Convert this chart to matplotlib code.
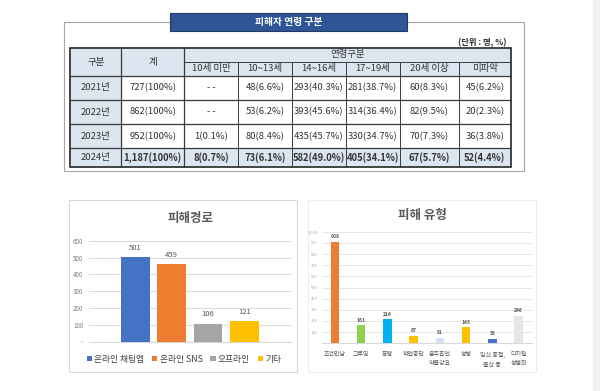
import matplotlib
matplotlib.use("Agg")
import matplotlib.pyplot as plt
from matplotlib.patches import Rectangle

plt.rcParams['font.family'] = ['Noto Sans CJK KR', 'DejaVu Sans']

# ---------------- data ----------------
years = ['2021년', '2022년', '2023년', '2024년']
totals = [727, 862, 952, 1187]
age_groups = ['10세 미만', '10~13세', '14~16세', '17~19세', '20세 이상', '미파악']
age_counts = [
    [None, 48, 293, 281, 60, 45],
    [None, 53, 393, 314, 82, 20],
    [1, 80, 435, 330, 70, 36],
    [8, 73, 582, 405, 67, 52],
]
age_pcts = [
    [None, 6.6, 40.3, 38.7, 8.3, 6.2],
    [None, 6.2, 45.6, 36.4, 9.5, 2.3],
    [0.1, 8.4, 45.7, 34.7, 7.3, 3.8],
    [0.7, 6.1, 49.0, 34.1, 5.7, 4.4],
]

routes = ['온라인 채팅앱', '온라인 SNS', '오프라인', '기타']
route_vals = [501, 459, 106, 121]
route_colors = ['#4472C4', '#ED7D31', '#A5A5A5', '#FFC000']

types = ['조건만남', '그루밍', '폭행', '학업중단', '음주흡연\n약물강요', '성병',
         '임신 중절,\n출산 등', '디지털\n성범죄']
type_vals = [908, 161, 214, 67, 51, 143, 38, 246]
type_colors = ['#ED7D31', '#92D050', '#00B0F0', '#FFC000', '#DAE3F3', '#FFC000',
               '#4472C4', '#E7E6E6']

W, H = 600, 391
fig = plt.figure(figsize=(W / 100, H / 100), dpi=100)
fig.patch.set_facecolor('white')

bg = fig.add_axes([0, 0, 1, 1])
bg.set_xlim(0, W)
bg.set_ylim(H, 0)
bg.axis('off')

# right grey strip
bg.add_patch(Rectangle((593, 0), 7, H, facecolor='#F2F2F2', edgecolor='none'))

# ---------------- table section ----------------
bg.add_patch(Rectangle((64, 22.3), 460, 148.4, facecolor='white',
                       edgecolor='#A6A6A6', lw=0.8))
bg.add_patch(Rectangle((170, 13.3), 237, 17.7, facecolor='#2F5597',
                       edgecolor='#1F3864', lw=0.8, zorder=3))
bg.text(288.5, 22.3, '피해자 연령 구분', color='white', fontsize=7, weight='bold',
        ha='center', va='center', zorder=4)
bg.text(506, 42.3, '(단위 : 명, %)', fontsize=6, weight='bold', color='#262626',
        ha='right', va='center')

cx = [70.4, 121.3, 184.1, 238, 291.6, 345.6, 399.5, 459.2, 510.5]
ry = [48.3, 61.7, 75.7, 99.7, 124.3, 148.3, 167.3]
hdr = '#DCE6F1'
tcol = '#333333'
fs = 6.8

# fills
bg.add_patch(Rectangle((cx[0], ry[0]), cx[-1] - cx[0], ry[2] - ry[0],
                       facecolor=hdr, edgecolor='none'))
bg.add_patch(Rectangle((cx[0], ry[2]), cx[1] - cx[0], ry[-1] - ry[2],
                       facecolor=hdr, edgecolor='none'))
bg.add_patch(Rectangle((cx[0], ry[5]), cx[-1] - cx[0], ry[6] - ry[5],
                       facecolor=hdr, edgecolor='none'))

lc = '#3A3A3A'
# horizontal lines
bg.plot([cx[2], cx[-1]], [ry[1], ry[1]], color=lc, lw=0.7)
for y in ry[2:6]:
    bg.plot([cx[0], cx[-1]], [y, y], color=lc, lw=0.9)
# vertical lines
for x in cx[1:3]:
    bg.plot([x, x], [ry[0], ry[-1]], color=lc, lw=0.9)
for x in cx[3:8]:
    bg.plot([x, x], [ry[1], ry[-1]], color=lc, lw=0.7)
bg.add_patch(Rectangle((cx[0], ry[0]), cx[-1] - cx[0], ry[-1] - ry[0],
                       facecolor='none', edgecolor='#262626', lw=1.2))

# header texts
bg.text((cx[0] + cx[1]) / 2, (ry[0] + ry[2]) / 2, '구분', fontsize=fs, color=tcol,
        ha='center', va='center')
bg.text((cx[1] + cx[2]) / 2, (ry[0] + ry[2]) / 2, '계', fontsize=fs, color=tcol,
        ha='center', va='center')
bg.text((cx[2] + cx[-1]) / 2, (ry[0] + ry[1]) / 2, '연령구분', fontsize=fs,
        color=tcol, ha='center', va='center')
for j, g in enumerate(age_groups):
    bg.text((cx[j + 2] + cx[j + 3]) / 2, (ry[1] + ry[2]) / 2, g, fontsize=fs,
            color=tcol, ha='center', va='center')

# body texts
for i, yr in enumerate(years):
    yc = (ry[i + 2] + ry[i + 3]) / 2
    wt = 'bold' if i == len(years) - 1 else 'normal'
    bg.text((cx[0] + cx[1]) / 2, yc, yr, fontsize=fs, color=tcol,
            ha='center', va='center')
    bg.text((cx[1] + cx[2]) / 2, yc, f'{totals[i]:,}(100%)', fontsize=fs,
            color=tcol, ha='center', va='center', weight=wt)
    for j in range(len(age_groups)):
        c, p = age_counts[i][j], age_pcts[i][j]
        s = '- -' if c is None else f'{c}({p:.1f}%)'
        bg.text((cx[j + 2] + cx[j + 3]) / 2, yc, s, fontsize=fs, color=tcol,
                ha='center', va='center', weight=wt)

# ---------------- chart frames ----------------
bg.add_patch(Rectangle((69.3, 200.3), 228.1, 172, facecolor='white',
                       edgecolor='#D9D9D9', lw=0.8))
bg.add_patch(Rectangle((308, 200.3), 227.8, 172, facecolor='white',
                       edgecolor='#EDEDED', lw=0.8))
bg.text(191, 218.3, '피해경로', fontsize=9, weight='bold', color='#595959',
        ha='center', va='center')
bg.text(422, 216, '피해 유형', fontsize=9, weight='bold', color='#595959',
        ha='center', va='center')


def fr(x0, y_top, x1, y_bot):
    return [x0 / W, 1 - y_bot / H, (x1 - x0) / W, (y_bot - y_top) / H]


# ---------------- left chart ----------------
ax1 = fig.add_axes(fr(88.8, 240.7, 290.8, 341.7))
ax1.set_facecolor('none')
b1 = ax1.bar(range(len(routes)), route_vals, width=0.79, color=route_colors,
             label=routes, zorder=3)
ax1.bar_label(b1, fontsize=5.5, color='#595959', padding=4)
ax1.set_ylim(0, 600)
ax1.set_xlim(-1.28, len(routes) + 0.28)
ax1.set_yticks(range(0, 700, 100))
ax1.set_yticklabels(['-' if v == 0 else str(v) for v in range(0, 700, 100)])
ax1.tick_params(axis='y', length=0, labelsize=4.5, labelcolor='#7F7F7F', pad=4)
ax1.set_xticks([])
ax1.yaxis.grid(True, color='#D9D9D9', lw=0.7, zorder=0)
for sp in ['top', 'left', 'right']:
    ax1.spines[sp].set_visible(False)
ax1.spines['bottom'].set_color('#D9D9D9')
ax1.legend(loc='center', bbox_to_anchor=(184 / W, 1 - 359.3 / H),
           bbox_transform=fig.transFigure, ncol=4, frameon=False, fontsize=6.3,
           handlelength=0.6, handleheight=0.6, handletextpad=0.25,
           columnspacing=0.9, labelcolor='#404040')

# ---------------- right chart ----------------
ax2 = fig.add_axes(fr(321.5, 231.7, 532, 343.3))
ax2.set_facecolor('none')
b2 = ax2.bar(range(len(types)), type_vals, width=0.32, color=type_colors, zorder=3)
ax2.bar_label(b2, fontsize=3.6, color='#595959', weight='bold', padding=2)
ax2.set_ylim(0, 1000)
ax2.set_xlim(-0.51, len(types) - 0.49)
yt = list(range(0, 1100, 100))
ax2.set_yticks(yt)
ax2.set_yticklabels(['-' if v == 0 else f'{v:,}' for v in yt])
ax2.tick_params(axis='y', length=0, labelsize=2.8, labelcolor='#A6A6A6', pad=3)
ax2.set_xticks(range(len(types)))
ax2.set_xticklabels(types, linespacing=2.1)
ax2.tick_params(axis='x', length=0, labelsize=4.3, labelcolor='#595959', pad=6)
ax2.yaxis.grid(True, color='#E3E3E3', lw=0.6, zorder=0)
for sp in ['top', 'left', 'right']:
    ax2.spines[sp].set_visible(False)
ax2.spines['bottom'].set_color('#D9D9D9')

fig.savefig('out.png', dpi=100)
